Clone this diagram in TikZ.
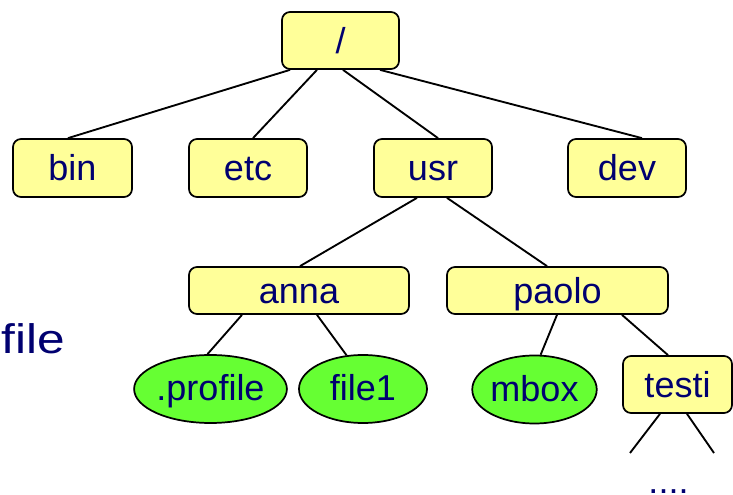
\documentclass[tikz,border=0pt]{standalone}
\usepackage{fontspec}
\usepackage{graphicx}
\setmainfont{Liberation Sans}
\usetikzlibrary{shapes.geometric,calc}
\def\pxu{0.75pt}
\definecolor{dirfill}{HTML}{FFFF99}
\definecolor{filefill}{HTML}{66FF33}
\definecolor{labelblue}{HTML}{000070}
\begin{document}
\begin{tikzpicture}[x=0.75pt,y=-0.75pt,
  treefont/.style={font=\fontsize{27}{29}\selectfont, text=labelblue},
  dirbox/.style={treefont, draw=black, line width=1.3pt, fill=dirfill,
    rounded corners=6pt, inner sep=0pt, text height=19.5pt, text depth=0pt,
    minimum height=57*\pxu},
  filenode/.style={treefont, ellipse, draw=black, line width=1.3pt, fill=filefill,
    inner sep=0pt, text height=18pt, text depth=0pt, minimum height=68*\pxu},
  link/.style={line width=1.4pt, draw=black}]
\useasboundingbox (0,0) rectangle (733,495);

% directories
\node[dirbox, minimum width=117*\pxu] (root) at (340.5,40.5) {/};
\node[dirbox, minimum width=119*\pxu, minimum height=58*\pxu] (bin) at (72.5,168) {bin};
\node[dirbox, minimum width=118*\pxu, minimum height=58*\pxu] (etc) at (248,168) {etc};
\node[dirbox, minimum width=118*\pxu, minimum height=58*\pxu] (usr) at (433,168) {usr};
\node[dirbox, minimum width=118*\pxu, minimum height=58*\pxu] (dev) at (627,168) {dev};
\node[dirbox, minimum width=220*\pxu, minimum height=47*\pxu] (anna) at (299,290.5) {anna};
\node[dirbox, minimum width=221*\pxu, minimum height=47*\pxu] (paolo) at (557.5,290.5) {paolo};
\node[dirbox, minimum width=109*\pxu] (testi) at (677.5,384.5) {testi};

% plain files
\node[filenode, minimum width=137*\pxu] (profile) at (210.5,389) {.profile};
\node[filenode, minimum width=128*\pxu] (file1) at (363,389) {file1};
\node[filenode, minimum width=119*\pxu] (mbox) at (534.5,389.5) {mbox};

% side label and continuation
\node[treefont, font=\fontsize{31}{33}\selectfont, anchor=base west, inner sep=0pt]
  (fileword) at (1,354) {\scalebox{1.2}[1]{file}};
\node[treefont, anchor=base, inner sep=0pt, text depth=0pt] (dots) at (668.5,493.5) {....};

% free ends below testi
\coordinate (testiL) at (630,453);
\coordinate (testiR) at (714,453);

% connectors
\draw[link] ($(root.south)+(-50.5,0)$) -- ($(bin.north)+(-4.5,0)$);
\draw[link] ($(root.south)+(-23.5,0)$) -- ($(etc.north)+(5,0)$);
\draw[link] ($(root.south)+(2.5,0)$) -- ($(usr.north)+(5,0)$);
\draw[link] ($(root.south)+(39.5,0)$) -- ($(dev.north)+(15,0)$);
\draw[link] ($(usr.south)+(-16,0)$) -- ($(anna.north)+(1,0)$);
\draw[link] ($(usr.south)+(14,0)$) -- ($(paolo.north)+(-10.5,0)$);
\draw[link] ($(anna.south)+(-57,0)$) -- (profile.95);
\draw[link] ($(anna.south)+(18,0)$) -- (file1.116);
\draw[link] ($(paolo.south)+(-0.5,0)$) -- (mbox.80);
\draw[link] ($(paolo.south)+(64.5,0)$) -- ($(testi.north)+(-9.5,0)$);
\draw[link] ($(testi.south)+(-17.5,0)$) -- (testiL);
\draw[link] ($(testi.south)+(9.5,0)$) -- (testiR);
\end{tikzpicture}
\end{document}
